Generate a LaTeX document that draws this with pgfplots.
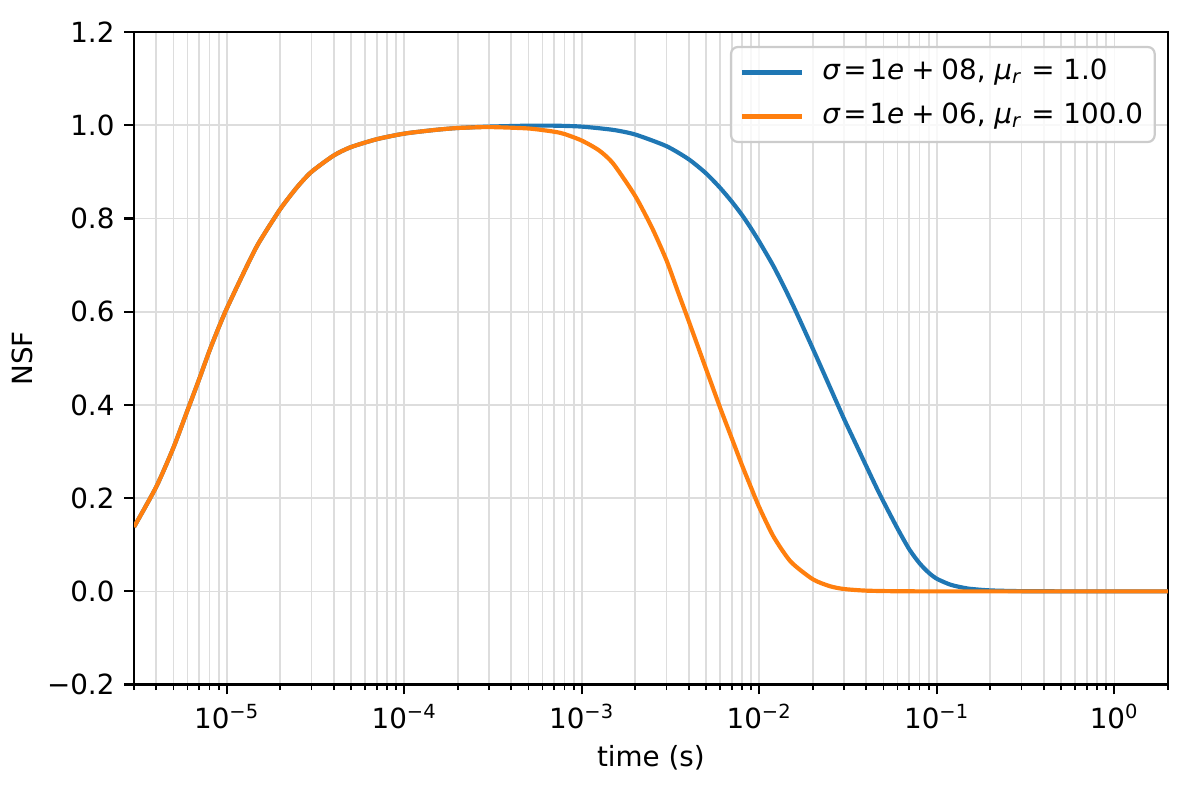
\documentclass[border=0pt]{standalone}
\usepackage{fontspec}
\setmainfont{DejaVu Sans}
\usepackage{pgfplots}
\pgfplotsset{compat=1.18}
\usepackage{pgfplotstable}
\definecolor{mplblue}{HTML}{1F77B4}
\definecolor{mplorange}{HTML}{FF7F0E}
\definecolor{gridgray}{HTML}{DDDDDD}
\definecolor{legedge}{HTML}{CCCCCC}

\pgfplotstableread{
t y
3e-6 0.138
4e-6 0.224
5e-6 0.308
6e-6 0.388
7e-6 0.456
8e-6 0.517
9e-6 0.566
1e-5 0.607
1.25e-5 0.685
1.5e-5 0.745
2e-5 0.820
2.5e-5 0.868
3e-5 0.900
4e-5 0.935
5e-5 0.953
7e-5 0.970
1e-4 0.982
1.5e-4 0.990
2e-4 0.994
3e-4 0.997
5e-4 0.999
7e-4 0.999
1e-3 0.997
1.5e-3 0.990
2e-3 0.980
3e-3 0.955
4e-3 0.927
5e-3 0.897
6e-3 0.866
7e-3 0.836
8e-3 0.807
9e-3 0.778
1e-2 0.750
1.2e-2 0.698
1.4e-2 0.648
1.6e-2 0.602
2e-2 0.521
2.5e-2 0.438
3e-2 0.370
3.5e-2 0.316
4e-2 0.269
4.8e-2 0.206
6e-2 0.135
7e-2 0.090
8e-2 0.060
9e-2 0.040
1e-1 0.027
1.2e-1 0.014
1.5e-1 0.006
2e-1 0.002
3e-1 0.0004
5e-1 0
1 0
2 0
}\blueseries

\pgfplotstableread{
t y
3e-6 0.138
4e-6 0.224
5e-6 0.308
6e-6 0.388
7e-6 0.456
8e-6 0.517
9e-6 0.566
1e-5 0.607
1.25e-5 0.685
1.5e-5 0.745
2e-5 0.820
2.5e-5 0.868
3e-5 0.900
4e-5 0.935
5e-5 0.953
7e-5 0.970
1e-4 0.982
1.5e-4 0.990
2e-4 0.994
3e-4 0.996
5e-4 0.993
7e-4 0.986
8e-4 0.981
1e-3 0.967
1.25e-3 0.946
1.5e-3 0.918
2e-3 0.848
2.5e-3 0.778
3e-3 0.710
3.5e-3 0.640
4e-3 0.580
5e-3 0.478
6e-3 0.395
7e-3 0.328
8e-3 0.270
9e-3 0.222
1e-2 0.180
1.2e-2 0.118
1.5e-2 0.064
2e-2 0.026
2.5e-2 0.011
3e-2 0.005
4e-2 0.0015
6e-2 0.0002
1e-1 0
1 0
2 0
}\orangeseries

\begin{document}
\begin{tikzpicture}
\begin{axis}[
  scale only axis,
  width=372.1pt, height=234.9pt,
  xmode=log,
  xmin=3e-6, xmax=2,
  ymin=-0.2, ymax=1.2,
  axis line style={line width=0.8pt, black},
  tick pos=left,
  tick align=outside,
  major tick length=3.5pt,
  minor tick length=2pt,
  major tick style={line width=0.8pt, black},
  minor tick style={line width=0.6pt, black},
  xtick={1e-5,1e-4,1e-3,1e-2,1e-1,1},
  xticklabels={10\textsuperscript{−5},10\textsuperscript{−4},10\textsuperscript{−3},10\textsuperscript{−2},10\textsuperscript{−1},10\textsuperscript{0}},
  minor xtick={3e-6,4e-6,5e-6,6e-6,7e-6,8e-6,9e-6,
    2e-5,3e-5,4e-5,5e-5,6e-5,7e-5,8e-5,9e-5,
    2e-4,3e-4,4e-4,5e-4,6e-4,7e-4,8e-4,9e-4,
    2e-3,3e-3,4e-3,5e-3,6e-3,7e-3,8e-3,9e-3,
    2e-2,3e-2,4e-2,5e-2,6e-2,7e-2,8e-2,9e-2,
    2e-1,3e-1,4e-1,5e-1,6e-1,7e-1,8e-1,9e-1,2},
  ytick={-0.2,0,0.2,0.4,0.6,0.8,1.0,1.2},
  yticklabels={−0.2,0.0,0.2,0.4,0.6,0.8,1.0,1.2},
  xmajorgrids=true, xminorgrids=true, ymajorgrids=true,
  major grid style={gridgray, line width=0.6pt},
  minor grid style={gridgray, line width=0.6pt},
  xlabel={time (s)},
  ylabel={NSF},
  x label style={at={(axis description cs:0.5,-0.1128)}, anchor=center},
  y label style={at={(axis description cs:-0.1083,0.5)}, anchor=center},
  legend cell align=left,
  legend image code/.code={\draw[#1] (0pt,0pt) -- (21.6pt,0pt);},
  legend style={at={(1,1)}, anchor=north east, xshift=-4.3pt, yshift=-5pt,
    draw=legedge, line width=0.8pt, rounded corners=2.5pt,
    fill=white, fill opacity=0.8, text opacity=1,
    inner sep=3.2pt, row sep=3.8pt, /tikz/column sep=5.6pt,
    nodes={inner sep=1pt, text height=7.5pt, text depth=2.5pt}},
]
\addplot[mplblue, line width=1.5pt, smooth, tension=0.4] table[x=t, y=y] {\blueseries};
\addlegendentry{\textit{σ}\hspace{0.1em}=\hspace{0.1em}1\textit{e}\hspace{0.25em}+\hspace{0.25em}08, \textit{μ}\textsubscript{\textit{r}} = 1.0}
\addplot[mplorange, line width=1.5pt, smooth, tension=0.4] table[x=t, y=y] {\orangeseries};
\addlegendentry{\textit{σ}\hspace{0.1em}=\hspace{0.1em}1\textit{e}\hspace{0.25em}+\hspace{0.25em}06, \textit{μ}\textsubscript{\textit{r}} = 100.0}
\end{axis}
\pgfresetboundingbox
\path (-48.24pt,-41.6pt) rectangle (383.7pt,246.42pt);
\end{tikzpicture}
\end{document}
